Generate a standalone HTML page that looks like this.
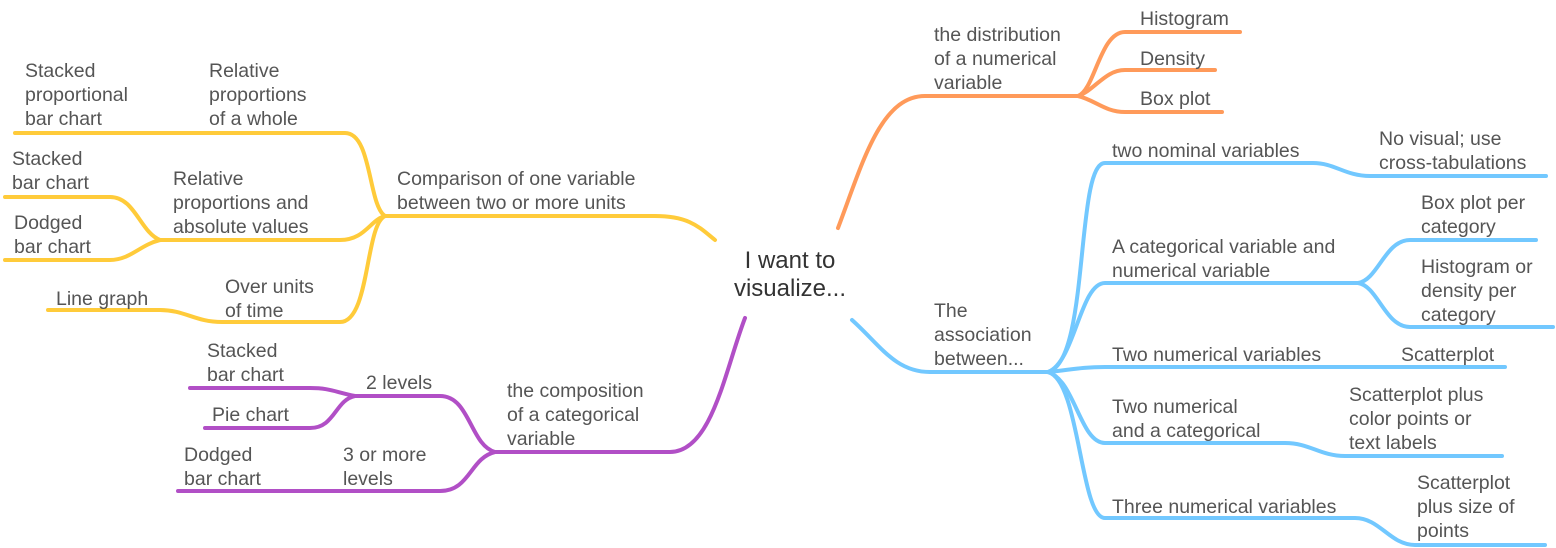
<!DOCTYPE html>
<html><head><meta charset="utf-8"><style>
html,body{margin:0;padding:0;background:#fff;}
svg{display:block;}
text{font-family:"Liberation Sans",sans-serif;font-size:19.5px;fill:#555;}
.c{font-size:24px;fill:#333;text-anchor:middle;}
path{fill:none;stroke-width:4;stroke-linecap:round;}
.o{stroke:#FF9A5A;}.b{stroke:#72C8FF;}.y{stroke:#FFCB3A;}.p{stroke:#B14FC6;}
</style></head><body>
<svg width="1556" height="548" viewBox="0 0 1556 548">
<path class="o" d="M838,228 C862,165 880,96 925,96 L1078,96"/>
<path class="o" d="M1078,96 C1095,90 1100,32 1125,32 L1240,32"/>
<path class="o" d="M1078,96 C1095,90 1105,70 1125,70 L1215,70"/>
<path class="o" d="M1078,96 C1095,100 1105,112 1125,112 L1222,112"/>
<path class="b" d="M852,320 C880,345 895,372 930,372 L1048,372"/>
<path class="b" d="M1048,372 C1090,362 1075,163 1105,163 L1313,163 C1335,163 1345,176 1370,176 L1546,176"/>
<path class="b" d="M1048,372 C1075,362 1080,283 1105,283 L1358,283"/>
<path class="b" d="M1358,283 C1378,280 1385,240 1410,240 L1536,240"/>
<path class="b" d="M1358,283 C1378,286 1385,327 1410,327 L1553,327"/>
<path class="b" d="M1048,372 C1070,370 1080,367 1105,367 L1505,367"/>
<path class="b" d="M1048,372 C1075,380 1080,443 1105,443 L1285,443 C1310,443 1320,456 1345,456 L1502,456"/>
<path class="b" d="M1048,372 C1080,380 1080,518 1105,518 L1355,518 C1380,518 1390,545 1415,545 L1545,545"/>
<path class="y" d="M715,240 C700,228 690,216 655,216 L385,216"/>
<path class="y" d="M385,216 C368,205 372,133 345,133 L15,133"/>
<path class="y" d="M385,216 C370,220 365,240 340,240 L160,240"/>
<path class="y" d="M160,240 C140,232 135,197 110,197 L5,197"/>
<path class="y" d="M160,240 C140,245 130,260 110,260 L5,260"/>
<path class="y" d="M385,216 C365,225 370,322 340,322 L222,322 C195,322 185,310 160,310 L48,310"/>
<path class="p" d="M745,318 C725,370 712,452 670,452 L495,452"/>
<path class="p" d="M495,452 C470,445 470,396 440,396 L355,396"/>
<path class="p" d="M355,396 C335,392 330,388 310,388 L190,388"/>
<path class="p" d="M355,396 C335,400 335,428 310,428 L205,428"/>
<path class="p" d="M495,452 C470,458 470,491 440,491 L178,491"/>
<text class="c" x="790" y="268">I want to</text>
<text class="c" x="790" y="296">visualize...</text>

<text x="934" y="41">the distribution</text><text x="934" y="65">of a numerical</text><text x="934" y="89">variable</text>
<text x="1140" y="25">Histogram</text><text x="1140" y="65">Density</text><text x="1140" y="105">Box plot</text>

<text x="1112" y="157">two nominal variables</text>
<text x="1379" y="145">No visual; use</text><text x="1379" y="169">cross-tabulations</text>
<text x="1112" y="253">A categorical variable and</text><text x="1112" y="277">numerical variable</text>
<text x="1421" y="209">Box plot per</text><text x="1421" y="233">category</text>
<text x="1421" y="273">Histogram or</text><text x="1421" y="297">density per</text><text x="1421" y="321">category</text>
<text x="934" y="317">The</text><text x="934" y="341">association</text><text x="934" y="365">between...</text>
<text x="1112" y="361">Two numerical variables</text><text x="1401" y="361">Scatterplot</text>
<text x="1112" y="413">Two numerical</text><text x="1112" y="437">and a categorical</text>
<text x="1349" y="401">Scatterplot plus</text><text x="1349" y="425">color points or</text><text x="1349" y="449">text labels</text>
<text x="1112" y="513">Three numerical variables</text>
<text x="1417" y="489">Scatterplot</text><text x="1417" y="513">plus size of</text><text x="1417" y="537">points</text>

<text x="25" y="77">Stacked</text><text x="25" y="101">proportional</text><text x="25" y="125">bar chart</text>
<text x="209" y="77">Relative</text><text x="209" y="101">proportions</text><text x="209" y="125">of a whole</text>
<text x="397" y="185">Comparison of one variable</text><text x="397" y="209">between two or more units</text>
<text x="12" y="165">Stacked</text><text x="12" y="189">bar chart</text>
<text x="173" y="185">Relative</text><text x="173" y="209">proportions and</text><text x="173" y="233">absolute values</text>
<text x="14" y="229">Dodged</text><text x="14" y="253">bar chart</text>
<text x="56" y="305">Line graph</text>
<text x="225" y="293">Over units</text><text x="225" y="317">of time</text>

<text x="207" y="357">Stacked</text><text x="207" y="381">bar chart</text>
<text x="366" y="389">2 levels</text>
<text x="212" y="421">Pie chart</text>
<text x="507" y="397">the composition</text><text x="507" y="421">of a categorical</text><text x="507" y="445">variable</text>
<text x="184" y="461">Dodged</text><text x="184" y="485">bar chart</text>
<text x="343" y="461">3 or more</text><text x="343" y="485">levels</text>
</svg>
</body></html>
